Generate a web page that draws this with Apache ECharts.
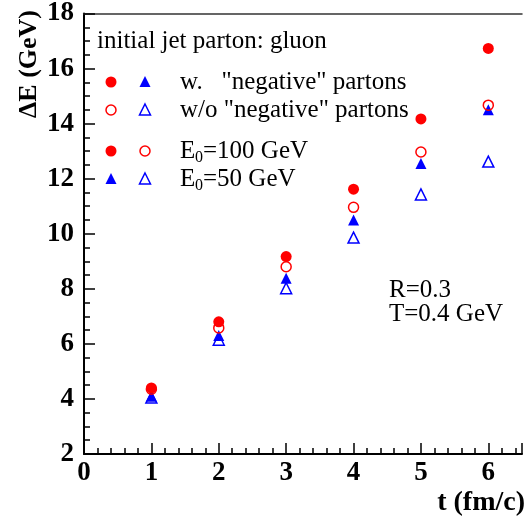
<!DOCTYPE html>
<html>
<head>
<meta charset="utf-8">
<script src="https://cdn.jsdelivr.net/npm/echarts@6/dist/echarts.min.js"></script>
<style>
html,body{margin:0;padding:0;background:#fff;}
#chart{width:525px;height:527px;}
</style>
</head>
<body>
<div id="chart"></div>
<script>
// Data
var tValues = [1, 2, 3, 4, 5, 6];
var withNeg100 = [4.40, 6.80, 9.17, 11.62, 14.17, 16.73];   // filled red circles
var withoutNeg100 = [4.35, 6.58, 8.80, 10.96, 12.97, 14.67]; // open red circles
var withNeg50 = [4.10, 6.30, 8.38, 10.50, 12.55, 14.50];    // filled blue triangles
var withoutNeg50 = [4.05, 6.15, 8.02, 9.86, 11.43, 12.62];  // open blue triangles
var xTicks = [0, 1, 2, 3, 4, 5, 6];
var yTicks = [2, 4, 6, 8, 10, 12, 14, 16, 18];

function pairs(vals) {
  return tValues.map(function (t, i) { return [t, vals[i]]; });
}

var serif = "'Liberation Serif', 'DejaVu Serif', serif";
var chart = echarts.init(document.getElementById('chart'), null, {renderer: 'canvas'});

var L = 84, T = 12, W = 440, H = 442;

function txt(x, y, s, opts) {
  opts = opts || {};
  return {
    type: 'text', x: x, y: y, z: 10,
    rotation: opts.rotation || 0,
    style: {
      text: s,
      font: (opts.weight || 'normal') + ' ' + (opts.size || 25) + 'px ' + serif,
      fill: '#000',
      align: opts.align || 'left',
      verticalAlign: opts.va || 'middle'
    }
  };
}
function sym(x, y, shape, filled, color) {
  if (shape === 'circle') {
    return {
      type: 'circle', z: 10,
      shape: {cx: x, cy: y, r: filled ? 5.5 : 5},
      style: filled ? {fill: color} : {fill: 'none', stroke: color, lineWidth: 1.5}
    };
  }
  return {
    type: 'polygon', z: 10,
    shape: {points: [[x, y - 6], [x + 5.5, y + 5], [x - 5.5, y + 5]]},
    style: filled ? {fill: color} : {fill: 'none', stroke: color, lineWidth: 1.5}
  };
}

var red = '#ff0000', blue = '#0000ff';
var c1 = 111, c2 = 145, tx = 180;
var r1 = 82, r2 = 110, r3 = 151, r4 = 179;

var graphics = [
  txt(97, 41, 'initial jet parton: gluon'),
  sym(c1, r1, 'circle', true, red), sym(c2, r1, 'triangle', true, blue),
  txt(tx, r1, 'w.   "negative" partons'),
  sym(c1, r2, 'circle', false, red), sym(c2, r2, 'triangle', false, blue),
  txt(tx, r2, 'w/o "negative" partons'),
  sym(c1, r3, 'circle', true, red), sym(c2, r3, 'circle', false, red),
  txt(tx, r3, 'E'), txt(tx + 15, r3 + 7, '0', {size: 16}), txt(tx + 23, r3, '=100 GeV'),
  sym(c1, r4, 'triangle', true, blue), sym(c2, r4, 'triangle', false, blue),
  txt(tx, r4, 'E'), txt(tx + 15, r4 + 7, '0', {size: 16}), txt(tx + 23, r4, '=50 GeV'),
  txt(389, 290, 'R=0.3'),
  txt(389, 314, 'T=0.4 GeV'),
  txt(29, 64, '\u0394E (GeV)', {weight: 'bold', size: 26, align: 'center', rotation: Math.PI / 2}),
  txt(525, 503, 't (fm/c)', {weight: 'bold', size: 28, align: 'right'})
];

var axisCommon = {
  axisLine: {show: true, onZero: false, lineStyle: {color: '#000', width: 2}},
  axisTick: {show: true, inside: true, length: 11, lineStyle: {color: '#000', width: 1.5}},
  minorTick: {show: true, length: 6, lineStyle: {color: '#000', width: 1.5}},
  splitLine: {show: false},
  minorSplitLine: {show: false},
  axisLabel: {color: '#000', fontFamily: serif, fontWeight: 'bold', fontSize: 27}
};

var option = {
  animation: false,
  backgroundColor: '#fff',
  grid: {left: L, top: T, width: W, height: H, containLabel: false},
  xAxis: [
    echarts.util.merge({
      type: 'value', min: 0, max: 6.5, interval: 1, position: 'bottom',
      minorTick: {splitNumber: 5},
      axisLabel: {margin: 6, formatter: function (v) { return xTicks.indexOf(v) >= 0 ? String(v) : ''; }}
    }, axisCommon, false),
    {
      type: 'value', min: 0, max: 6.5, position: 'top',
      axisLine: {show: true, onZero: false, lineStyle: {color: '#333', width: 1.5}},
      axisTick: {show: false}, axisLabel: {show: false}, splitLine: {show: false}
    }
  ],
  yAxis: echarts.util.merge({
    type: 'value', min: 2, max: 18, interval: 2,
    minorTick: {splitNumber: 4},
    axisLabel: {margin: 10, formatter: function (v) { return yTicks.indexOf(v) >= 0 ? String(v) : ''; }}
  }, axisCommon, false),
  series: [
    {
      name: 'w/o negative, E0=50', type: 'scatter', data: pairs(withoutNeg50),
      symbol: 'triangle', symbolSize: 11, z: 2,
      itemStyle: {color: 'rgba(0,0,0,0)', borderColor: blue, borderWidth: 1.5, opacity: 1}
    },
    {
      name: 'w. negative, E0=50', type: 'scatter', data: pairs(withNeg50),
      symbol: 'triangle', symbolSize: 11, z: 3,
      itemStyle: {color: blue, opacity: 1}
    },
    {
      name: 'w/o negative, E0=100', type: 'scatter', data: pairs(withoutNeg100),
      symbol: 'circle', symbolSize: 10, z: 4,
      itemStyle: {color: 'rgba(0,0,0,0)', borderColor: red, borderWidth: 1.5, opacity: 1}
    },
    {
      name: 'w. negative, E0=100', type: 'scatter', data: pairs(withNeg100),
      symbol: 'circle', symbolSize: 11, z: 5,
      itemStyle: {color: red, opacity: 1}
    }
  ],
  graphic: graphics
};
chart.setOption(option);
</script>
</body>
</html>
